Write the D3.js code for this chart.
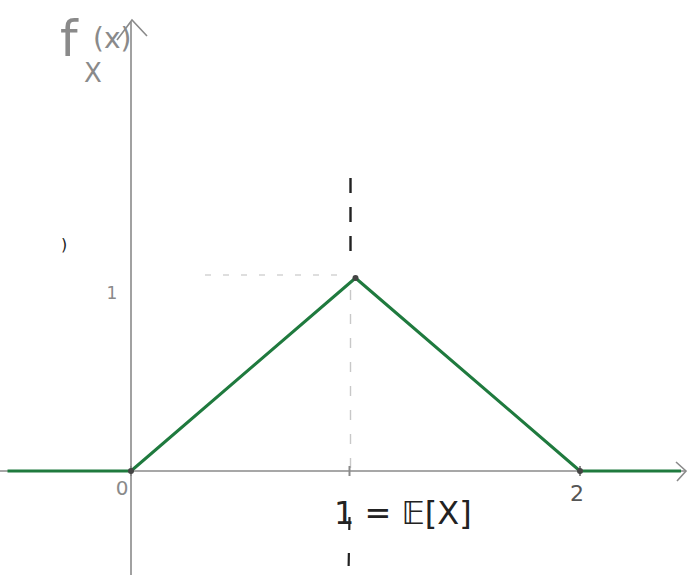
<!DOCTYPE html>
<html>
<head>
<meta charset="utf-8">
<script src="https://cdn.jsdelivr.net/npm/d3@7"></script>
<style>
  html, body { margin: 0; padding: 0; background: #fff; }
  svg { display: block; }
  text { font-family: "DejaVu Sans", sans-serif; }
</style>
</head>
<body>
<svg id="chart" width="688" height="575"></svg>
<script>
// Triangular density f_X on [0, 2], peak at x = 1
const xValues = [-0.55, 0, 1, 2, 2.45];
const densityValues = [0, 0, 1, 0, 0];
const xTicks = [0, 1, 2];
const xTickLabels = ["0", "1 = 𝔼[X]", "2"];
const yTicks = [1];
const yTickLabels = ["1"];
const meanValue = 1;

const svg = d3.select("#chart");
const W = 688, H = 575;

const x = d3.scaleLinear().domain([0, 2]).range([131, 580]);
const y = d3.scaleLinear().domain([0, 1]).range([471, 278]);

const axisColor = "#8a8a8a";
const ink = "#222";
const green = "#1f7a3e";

// axes
svg.append("line").attr("x1", 0).attr("x2", 686).attr("y1", y(0)).attr("y2", y(0))
  .attr("stroke", axisColor).attr("stroke-width", 1.6);
svg.append("path").attr("d", `M${676},${y(0) - 9} L${686},${y(0)} L${677},${y(0) + 10}`)
  .attr("fill", "none").attr("stroke", axisColor).attr("stroke-width", 1.6);

svg.append("line").attr("x1", x(0)).attr("x2", x(0)).attr("y1", H).attr("y2", 22)
  .attr("stroke", axisColor).attr("stroke-width", 1.6);
svg.append("path").attr("d", `M${x(0) - 14},${40} L${x(0) + 1},${20} L${x(0) + 16},${36}`)
  .attr("fill", "none").attr("stroke", axisColor).attr("stroke-width", 1.6);

// axis title f_X(x)
svg.append("text").attr("x", 60).attr("y", 56).attr("font-size", 50)
  .attr("fill", axisColor).text("f");
svg.append("text").attr("x", 84).attr("y", 82).attr("font-size", 26)
  .attr("fill", axisColor).text("X");
svg.append("text").attr("x", 93).attr("y", 48).attr("font-size", 28)
  .attr("fill", axisColor).text("(x)");

// mean marker: vertical dashed line through x = 1
const mx = x(meanValue) - 5;
svg.append("line").attr("x1", mx).attr("x2", mx).attr("y1", 178).attr("y2", 262)
  .attr("stroke", ink).attr("stroke-width", 2.4).attr("stroke-dasharray", "15,14");
svg.append("line").attr("x1", mx).attr("x2", mx).attr("y1", 290).attr("y2", y(0))
  .attr("stroke", "#c8c8c8").attr("stroke-width", 1.4).attr("stroke-dasharray", "10,14");
svg.append("line").attr("x1", mx - 1).attr("x2", mx - 2).attr("y1", 517).attr("y2", 575)
  .attr("stroke", ink).attr("stroke-width", 2.2).attr("stroke-dasharray", "13,23");

// dotted guide at height 1
svg.append("line").attr("x1", 205).attr("x2", x(1) - 8).attr("y1", y(1) - 3).attr("y2", y(1) - 3)
  .attr("stroke", "#bdbdbd").attr("stroke-width", 1.2).attr("stroke-dasharray", "6,12");

// y tick label
yTicks.forEach((v, i) => {
  svg.append("text").attr("x", 112).attr("y", y(v) + 21).attr("font-size", 17)
    .attr("fill", axisColor).attr("text-anchor", "middle").text(yTickLabels[i]);
});

// x ticks
xTicks.forEach(v => {
  svg.append("line").attr("x1", x(v) - (v === 1 ? 6 : 0)).attr("x2", x(v) - (v === 1 ? 6 : 0))
    .attr("y1", y(0) - 5).attr("y2", y(0) + 5).attr("stroke", axisColor).attr("stroke-width", 2);
});
svg.append("text").attr("x", x(0) - 9).attr("y", y(0) + 24).attr("font-size", 20)
  .attr("fill", axisColor).attr("text-anchor", "middle").text(xTickLabels[0]);
svg.append("text").attr("x", 334).attr("y", y(0) + 53).attr("font-size", 32)
  .attr("fill", ink).attr("text-anchor", "start").text(xTickLabels[1]);
svg.append("text").attr("x", x(2) - 3).attr("y", y(0) + 30).attr("font-size", 22)
  .attr("fill", "#555").attr("text-anchor", "middle").text(xTickLabels[2]);

// stray mark on the left
svg.append("text").attr("x", 61).attr("y", 250).attr("font-size", 16)
  .attr("fill", ink).text(")");

// density line
const line = d3.line().x((d, i) => x(xValues[i])).y(d => y(d));
svg.append("path").datum(densityValues).attr("d", line)
  .attr("fill", "none").attr("stroke", green).attr("stroke-width", 3)
  .attr("stroke-linejoin", "round");

// dots at vertices
[[0, 0], [1, 1], [2, 0]].forEach(([a, b]) => {
  svg.append("circle").attr("cx", x(a)).attr("cy", y(b)).attr("r", 3).attr("fill", "#444");
});
</script>
</body>
</html>
